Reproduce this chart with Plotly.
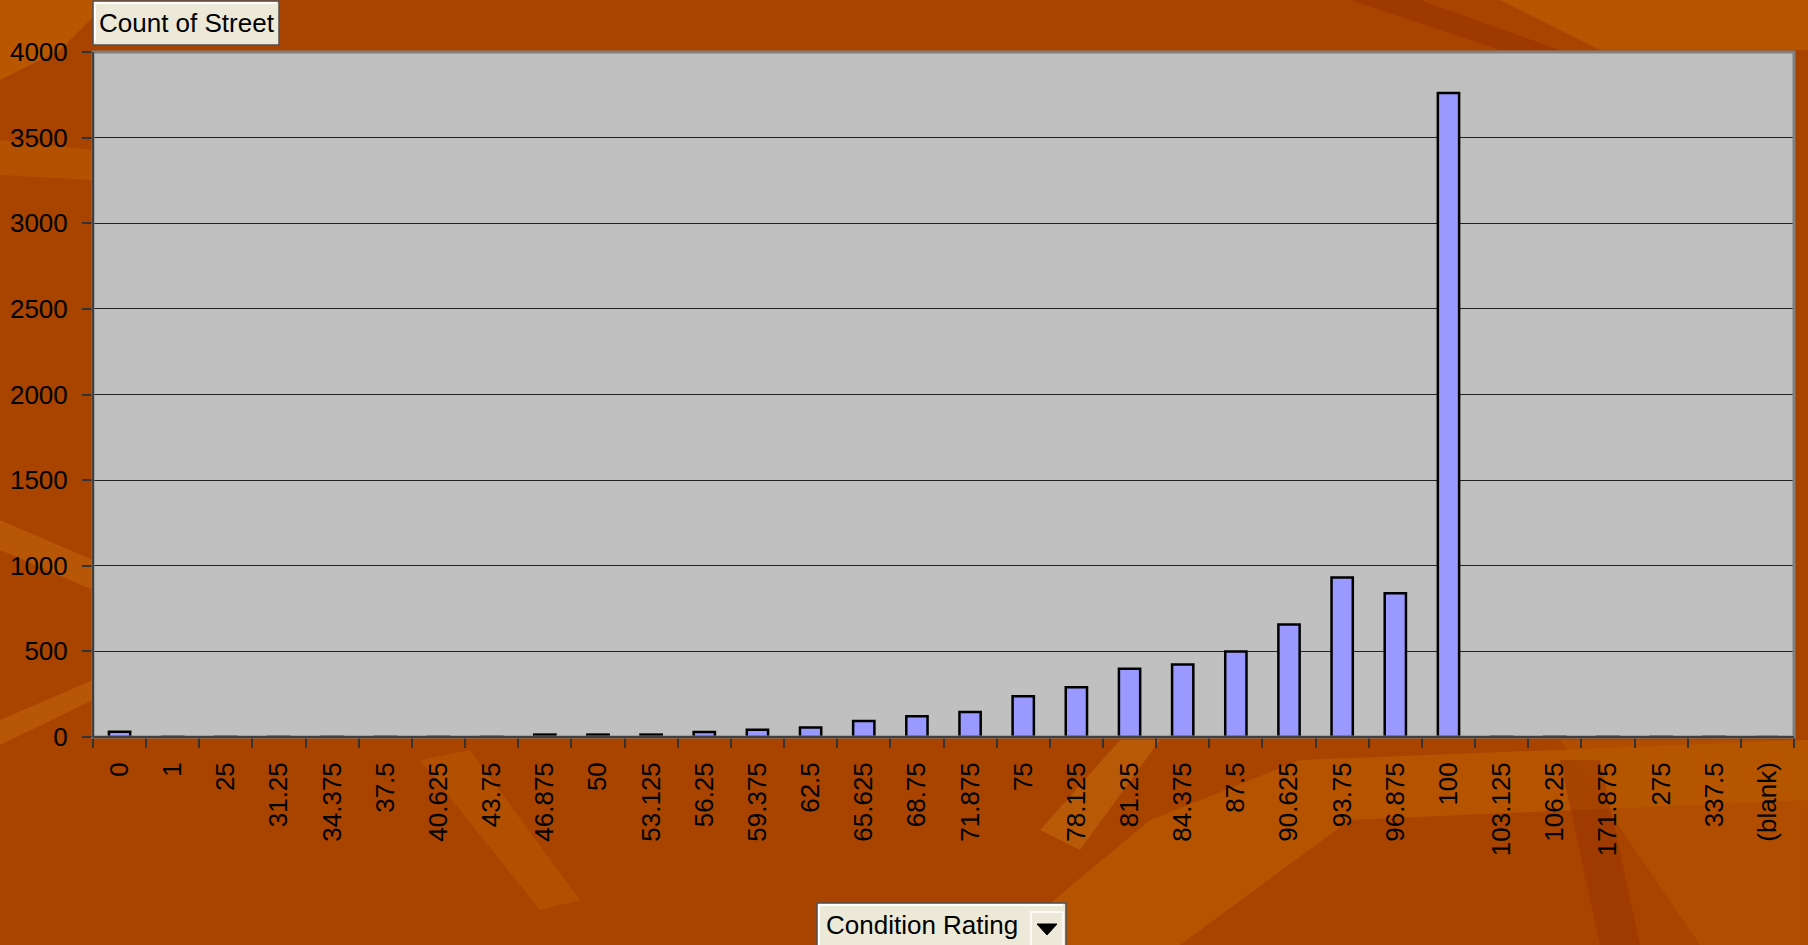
import plotly.graph_objects as go

# ---- data ----
categories = ["0", "1", "25", "31.25", "34.375", "37.5", "40.625", "43.75", "46.875", "50",
              "53.125", "56.25", "59.375", "62.5", "65.625", "68.75", "71.875", "75", "78.125",
              "81.25", "84.375", "87.5", "90.625", "93.75", "96.875", "100", "103.125",
              "106.25", "171.875", "275", "337.5", "(blank)"]
counts = [30, 1, 1, 1, 1, 1, 1, 1, 14, 14,
          14, 29, 43, 55, 94, 121, 146, 238, 291,
          398, 423, 500, 657, 932, 840, 3760, 1,
          1, 1, 1, 1, 0]
y_ticks = [0, 500, 1000, 1500, 2000, 2500, 3000, 3500, 4000]

# ---- geometry (pixels) ----
W, H = 1808, 945
L, R, T, B = 93, 1794, 52, 737
PW, PH = R - L, B - T


def px(x):
    return (x - L) / PW


def py(y):
    return (B - y) / PH


FONT = "Liberation Sans, Arial, sans-serif"
FS = 26

fig = go.Figure()
fig.add_trace(go.Bar(
    x=categories, y=counts,
    marker=dict(color="#9999FF", line=dict(color="#000000", width=2.5)),
    hoverinfo="x+y",
))

shapes = []

# decorative background streaks
def poly(pts, color, op):
    d = "M " + " L ".join(f"{px(a):.4f},{py(b):.4f}" for a, b in pts) + " Z"
    return dict(type="path", path=d, xref="paper", yref="paper", fillcolor=color,
                line=dict(width=0), opacity=op, layer="below")

shapes += [
    poly([(0, 0), (110, 0), (60, 50), (0, 80)], "#C06000", 0.7),
    poly([(1500, 0), (1808, 0), (1808, 50), (1600, 50)], "#C06000", 0.6),
    poly([(1350, 0), (1420, 0), (1560, 50), (1500, 50)], "#983400", 0.6),
    poly([(0, 520), (93, 560), (93, 590), (0, 550)], "#C86A10", 0.5),
    poly([(0, 720), (93, 680), (93, 700), (0, 745)], "#C86A10", 0.5),
    poly([(0, 140), (93, 150), (93, 180), (0, 175)], "#C06000", 0.5),
    poly([(1000, 945), (1150, 820), (1300, 760), (1808, 740), (1808, 800), (1350, 820), (1180, 945)], "#C06000", 0.55),
    poly([(1040, 830), (1120, 740), (1160, 740), (1080, 850)], "#C87010", 0.5),
    poly([(420, 760), (470, 750), (580, 900), (540, 910)], "#C06000", 0.45),
    poly([(1560, 740), (1808, 740), (1808, 945), (1700, 945)], "#B85800", 0.5),
    poly([(1560, 760), (1600, 760), (1640, 945), (1600, 945)], "#983400", 0.5),
]

# plot-area border: grey top/right, dark left/bottom
shapes.append(dict(type="rect", xref="paper", yref="paper", x0=0, x1=1, y0=0, y1=1,
                   line=dict(color="#808080", width=3), layer="above"))
shapes.append(dict(type="line", xref="paper", yref="paper", x0=0, x1=0, y0=0, y1=1,
                   line=dict(color="#404040", width=2), layer="above"))
shapes.append(dict(type="line", xref="paper", yref="paper", x0=0, x1=1, y0=0, y1=0,
                   line=dict(color="#404040", width=2), layer="above"))

# "Count of Street" field button
bx0, bx1, by0, by1 = 93, 279, 1, 45
shapes.append(dict(type="rect", xref="paper", yref="paper", x0=px(bx0), x1=px(bx1),
                   y0=py(by1), y1=py(by0), fillcolor="#ECE9D8",
                   line=dict(color="#505050", width=1.5), layer="above"))
shapes.append(dict(type="path", xref="paper", yref="paper",
                   path=f"M {px(bx0+2)},{py(by1-3)} L {px(bx0+2)},{py(by0+2)} L {px(bx1-3)},{py(by0+2)}",
                   line=dict(color="#FFFFFF", width=2), layer="above"))

# "Condition Rating" field button
cx0, cx1, cy0, cy1 = 817, 1066, 903, 948
shapes.append(dict(type="rect", xref="paper", yref="paper", x0=px(cx0), x1=px(cx1),
                   y0=py(cy1), y1=py(cy0), fillcolor="#ECE9D8",
                   line=dict(color="#505050", width=1.5), layer="above"))
shapes.append(dict(type="path", xref="paper", yref="paper",
                   path=f"M {px(cx0+2)},{py(cy1)} L {px(cx0+2)},{py(cy0+2)} L {px(cx1-3)},{py(cy0+2)}",
                   line=dict(color="#FFFFFF", width=2), layer="above"))
dx0, dx1, dy0, dy1 = 1031, 1063, 912, 948
shapes.append(dict(type="rect", xref="paper", yref="paper", x0=px(dx0), x1=px(dx1),
                   y0=py(dy1), y1=py(dy0), fillcolor="#ECE9D8",
                   line=dict(color="#FFFFFF", width=1.5), layer="above"))
shapes.append(dict(type="path", xref="paper", yref="paper",
                   path=f"M {px(1037)},{py(924)} L {px(1057)},{py(924)} L {px(1047)},{py(935)} Z",
                   fillcolor="#000000", line=dict(color="#000000", width=1), layer="above"))

annotations = [
    dict(text="Count of Street", xref="paper", yref="paper", x=px((bx0 + bx1) / 2 + 1),
         y=py((by0 + by1) / 2), showarrow=False, xanchor="center", yanchor="middle",
         font=dict(family=FONT, size=FS, color="#000000")),
    dict(text="Condition Rating", xref="paper", yref="paper", x=px(cx0 + 7),
         y=py(925), showarrow=False, xanchor="left", yanchor="middle",
         font=dict(family=FONT, size=FS, color="#000000")),
]

fig.update_layout(
    width=W, height=H, autosize=False,
    margin=dict(l=L, r=W - R, t=T, b=H - B, pad=0),
    paper_bgcolor="#A84300",
    plot_bgcolor="#C0C0C0",
    bargap=0.6,
    showlegend=False,
    shapes=shapes,
    annotations=annotations,
    font=dict(family=FONT, size=FS, color="#000000"),
)
fig.update_xaxes(
    type="category", categoryorder="array", categoryarray=categories,
    tickangle=-90, ticks="outside", tickson="boundaries", ticklen=10,
    tickcolor="#333333", tickwidth=1.5, showline=False, showgrid=False,
    tickfont=dict(family=FONT, size=FS, color="#000000"),
    ticklabelstandoff=19, automargin=False,
)
fig.update_yaxes(
    range=[0, 4000], tickvals=y_ticks, ticks="outside", ticklen=10,
    tickcolor="#333333", tickwidth=1.5, showline=False,
    showgrid=True, gridcolor="#222222", gridwidth=1, zeroline=False,
    tickfont=dict(family=FONT, size=FS, color="#000000"),
    ticklabelstandoff=9, automargin=False,
)

fig.write_html(
    "out.html",
    config={"displayModeBar": False},
    post_script="document.body.style.margin='0';document.body.style.overflow='hidden';",
)
